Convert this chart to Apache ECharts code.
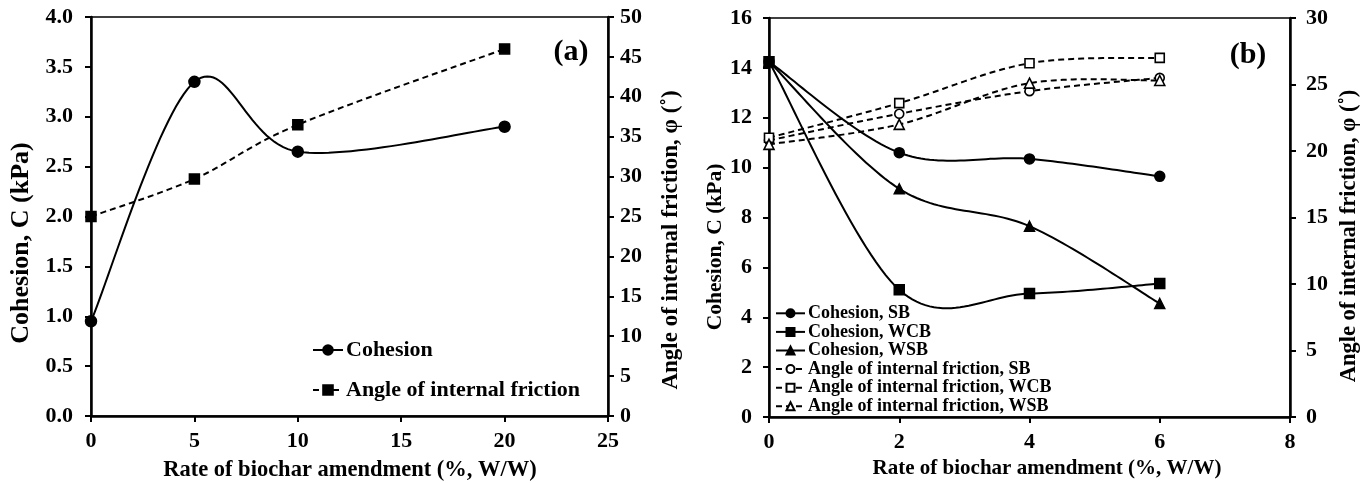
<!DOCTYPE html>
<html>
<head>
<meta charset="utf-8">
<script src="https://cdn.jsdelivr.net/npm/echarts@6/dist/echarts.min.js"></script>
<style>
  html, body { margin: 0; padding: 0; background: #fff; }
  #chart { width: 1370px; height: 483px; }
</style>
</head>
<body>
<div id="chart"></div>
<script>
// Panel (a): biochar rates 0–20 %
const ratesA = [0, 5, 10, 20];
const cohesionA = [0.95, 3.35, 2.65, 2.9];     // kPa
const frictionA = [25.0, 29.7, 36.5, 46.0];    // degrees

// Panel (b): biochar rates 0–6 %
const ratesB = [0, 2, 4, 6];
const cohesionSB = [14.25, 10.6, 10.35, 9.65];
const cohesionWCB = [14.25, 5.1, 4.95, 5.35];
const cohesionWSB = [14.25, 9.15, 7.65, 4.55];
const frictionSB = [20.8, 22.8, 24.5, 25.5];
const frictionWCB = [21.0, 23.6, 26.6, 27.0];
const frictionWSB = [20.5, 22.0, 25.1, 25.3];

const FONT = '"Liberation Serif", "Times New Roman", serif';
const pairs = (xs, ys) => xs.map((x, i) => [x, ys[i]]);

const axisLine = { show: true, onZero: false, lineStyle: { color: '#000', width: 2.5 } };
const axisTick = { show: true, inside: false, length: 6, lineStyle: { color: '#000', width: 2 } };
const label = (size, margin, extra) => Object.assign({
  color: '#000', fontFamily: FONT, fontWeight: 'bold', fontSize: size, margin: margin
}, extra || {});

const solid = { color: '#000', width: 2 };
const dashed = { color: '#000', width: 2, type: [6, 4] };
const hollow = { color: '#fff', borderColor: '#000', borderWidth: 1.6 };

// Marker series: carries the symbols and the legend entry; its own polyline is hidden
// because the connecting curve is drawn by curveSeries below.
function markerSeries(name, xs, ys, xi, yi, symbol, size, lineStyle, itemStyle) {
  return {
    name: name,
    type: 'line',
    xAxisIndex: xi,
    yAxisIndex: yi,
    data: pairs(xs, ys),
    symbol: symbol,
    symbolSize: size,
    showAllSymbol: true,
    lineStyle: Object.assign({}, lineStyle, { opacity: 0 }),
    itemStyle: itemStyle || { color: '#000', borderColor: '#000', borderWidth: 1.5 },
    emphasis: { disabled: true },
    z: 4
  };
}

// Smoothed connecting curve (cardinal spline through the points, in pixel space),
// the kind of smoothing spreadsheet charts use; it may overshoot between points.
function curveSeries(xs, ys, xi, yi, lineStyle) {
  return {
    type: 'custom',
    xAxisIndex: xi,
    yAxisIndex: yi,
    data: pairs(xs, ys),
    silent: true,
    z: 2,
    renderItem: (params, api) => {
      if (params.dataIndex !== 0) return null;
      const p = xs.map((x, i) => api.coord([x, ys[i]]));
      const n = p.length;
      const out = [p[0]];
      for (let i = 0; i < n - 1; i++) {
        const a = p[Math.max(i - 1, 0)], b = p[i], c = p[i + 1], d = p[Math.min(i + 2, n - 1)];
        const c1 = [b[0] + (c[0] - a[0]) / 6, b[1] + (c[1] - a[1]) / 6];
        const c2 = [c[0] - (d[0] - b[0]) / 6, c[1] - (d[1] - b[1]) / 6];
        const steps = 30;
        for (let s = 1; s <= steps; s++) {
          const t = s / steps, u = 1 - t;
          out.push([
            u * u * u * b[0] + 3 * u * u * t * c1[0] + 3 * u * t * t * c2[0] + t * t * t * c[0],
            u * u * u * b[1] + 3 * u * u * t * c1[1] + 3 * u * t * t * c2[1] + t * t * t * c[1]
          ]);
        }
      }
      return {
        type: 'polyline',
        shape: { points: out },
        style: {
          fill: null,
          stroke: lineStyle.color,
          lineWidth: lineStyle.width,
          lineDash: Array.isArray(lineStyle.type) ? lineStyle.type : null
        }
      };
    }
  };
}

function curveWithMarkers(name, xs, ys, xi, yi, symbol, size, lineStyle, itemStyle) {
  return [
    curveSeries(xs, ys, xi, yi, lineStyle),
    markerSeries(name, xs, ys, xi, yi, symbol, size, lineStyle, itemStyle)
  ];
}

const titleText = (text, x, y, size, rot) => ({
  type: 'text', x: x, y: y, rotation: rot || 0,
  style: {
    text: text, fill: '#000', font: 'bold ' + size + 'px ' + FONT,
    align: 'center', verticalAlign: 'middle'
  }
});

const legendText = size => ({
  color: '#000', fontFamily: FONT, fontWeight: 'bold', fontSize: size, padding: [0, 0, 0, -2]
});

const option = {
  animation: false,
  backgroundColor: '#fff',
  grid: [
    { left: 91, top: 17, width: 517, height: 399, show: true, borderColor: '#000', borderWidth: 1.5, backgroundColor: 'transparent' },
    { left: 769, top: 18, width: 521, height: 399, show: true, borderColor: '#000', borderWidth: 1.5, backgroundColor: 'transparent' }
  ],
  xAxis: [
    { gridIndex: 0, type: 'value', min: 0, max: 25, interval: 5, axisLine: axisLine, axisTick: axisTick,
      axisLabel: label(22, 14), splitLine: { show: false } },
    { gridIndex: 1, type: 'value', min: 0, max: 8, interval: 2, axisLine: axisLine, axisTick: axisTick,
      axisLabel: label(22, 14), splitLine: { show: false } }
  ],
  yAxis: [
    { gridIndex: 0, type: 'value', min: 0, max: 4, interval: 0.5, position: 'left', axisLine: axisLine, axisTick: axisTick,
      axisLabel: label(22, 18, { formatter: v => v.toFixed(1) }), splitLine: { show: false } },
    { gridIndex: 0, type: 'value', min: 0, max: 50, interval: 5, position: 'right', axisLine: axisLine, axisTick: axisTick,
      axisLabel: label(22, 12), splitLine: { show: false } },
    { gridIndex: 1, type: 'value', min: 0, max: 16, interval: 2, position: 'left', axisLine: axisLine, axisTick: axisTick,
      axisLabel: label(22, 17), splitLine: { show: false } },
    { gridIndex: 1, type: 'value', min: 0, max: 30, interval: 5, position: 'right', axisLine: axisLine, axisTick: axisTick,
      axisLabel: label(22, 16), splitLine: { show: false } }
  ],
  legend: [
    {
      orient: 'vertical', left: 307, top: 334, itemWidth: 30, itemHeight: 12, itemGap: 18,
      data: ['Cohesion', 'Angle of internal friction'],
      lineStyle: { opacity: 1 },
      textStyle: Object.assign(legendText(22), { lineHeight: 21 }),
      selectedMode: false
    },
    {
      orient: 'vertical', left: 770, top: 299, itemWidth: 29, itemHeight: 10, itemGap: 0,
      data: ['Cohesion, SB', 'Cohesion, WCB', 'Cohesion, WSB',
             'Angle of internal friction, SB', 'Angle of internal friction, WCB', 'Angle of internal friction, WSB'],
      lineStyle: { opacity: 1 },
      textStyle: Object.assign(legendText(18), { lineHeight: 18.6 }),
      selectedMode: false
    }
  ],
  series: [].concat(
    curveWithMarkers('Cohesion', ratesA, cohesionA, 0, 0, 'circle', 11, solid),
    curveWithMarkers('Angle of internal friction', ratesA, frictionA, 0, 1, 'rect', 10, dashed),

    curveWithMarkers('Cohesion, SB', ratesB, cohesionSB, 1, 2, 'circle', 10, solid),
    curveWithMarkers('Cohesion, WCB', ratesB, cohesionWCB, 1, 2, 'rect', 10, solid),
    curveWithMarkers('Cohesion, WSB', ratesB, cohesionWSB, 1, 2, 'triangle', 10, solid),
    curveWithMarkers('Angle of internal friction, SB', ratesB, frictionSB, 1, 3, 'circle', 9, dashed, hollow),
    curveWithMarkers('Angle of internal friction, WCB', ratesB, frictionWCB, 1, 3, 'rect', 9, dashed, hollow),
    curveWithMarkers('Angle of internal friction, WSB', ratesB, frictionWSB, 1, 3, 'triangle', 10, dashed, hollow)
  ),
  graphic: [
    titleText('Cohesion, C (kPa)', 21, 243, 26, Math.PI / 2),
    titleText('Angle of internal friction, \u03C6 (\u02DA)', 671, 240, 23, Math.PI / 2),
    titleText('Rate of biochar amendment (%, W/W)', 350, 470, 22.5),
    titleText('(a)', 571, 52, 30),
    titleText('Cohesion, C (kPa)', 715, 247, 21.5, Math.PI / 2),
    titleText('Angle of internal friction, \u03C6 (\u02DA)', 1349, 236, 22.5, Math.PI / 2),
    titleText('Rate of biochar amendment (%, W/W)', 1047, 469, 21),
    titleText('(b)', 1248, 55, 30)
  ]
};

const chart = echarts.init(document.getElementById('chart'), null, { renderer: 'canvas' });
chart.setOption(option);
</script>
</body>
</html>
